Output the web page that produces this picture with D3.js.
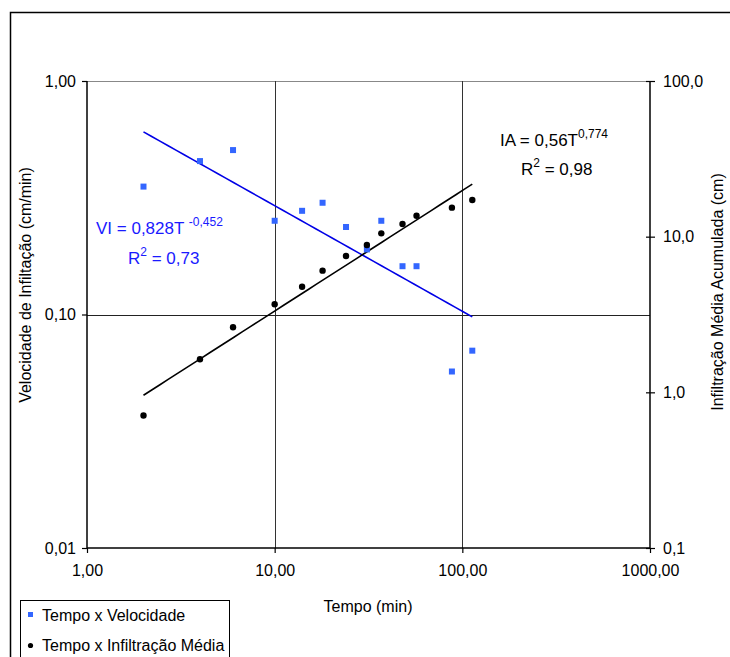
<!DOCTYPE html>
<html><head><meta charset="utf-8">
<script src="https://cdn.jsdelivr.net/npm/d3@7"></script>
<style>
html,body{margin:0;padding:0;background:#fff;}
svg{display:block;font-family:"Liberation Sans",Arial,sans-serif;}
</style></head>
<body><svg id="c" width="730" height="657"></svg>
<script>
// ---- data ----
const tempo = [2, 4, 6, 10, 14, 18, 24, 31, 37, 48, 57, 88, 113];
const velocidade = [0.353, 0.454, 0.506, 0.252, 0.278, 0.301, 0.237, 0.190, 0.252, 0.161, 0.161, 0.057, 0.070];
const infiltracao = [0.71, 1.63, 2.62, 3.68, 4.77, 6.05, 7.52, 8.84, 10.5, 12.06, 13.64, 15.36, 17.2];
const xTicks = [1, 10, 100, 1000];
const xTickLabels = ["1,00", "10,00", "100,00", "1000,00"];
const yLTicks = [0.01, 0.1, 1];
const yLTickLabels = ["0,01", "0,10", "1,00"];
const yRTicks = [0.1, 1, 10, 100];
const yRTickLabels = ["0,1", "1,0", "10,0", "100,0"];
// trendline equations shown on the chart
const viCoef = 0.828, viExp = -0.452;
const iaCoef = 0.56, iaExp = 0.774;
const seriesNames = ["Tempo x Velocidade", "Tempo x Infiltração Média"];

const svg = d3.select("#c");
const L = 87, R = 650, T = 81, B = 548;
const x = d3.scaleLog().domain([1, 1000]).range([L, R]);
const yL = d3.scaleLog().domain([0.01, 1]).range([B, T]);
const yR = d3.scaleLog().domain([0.1, 100]).range([B, T]);

// outer frame
svg.append("rect").attr("x", 10.5).attr("y", 12.5).attr("width", 900).attr("height", 900)
  .attr("fill", "none").attr("stroke", "#000").attr("stroke-width", 1.5);

// gridlines
svg.append("line").attr("x1", L).attr("x2", R).attr("y1", T + 0.5).attr("y2", T + 0.5)
  .attr("stroke", "#888").attr("stroke-width", 1.2);
[10, 100].forEach(v => {
  svg.append("line").attr("x1", Math.round(x(v)) + 0.5).attr("x2", Math.round(x(v)) + 0.5)
    .attr("y1", T).attr("y2", B).attr("stroke", "#333").attr("stroke-width", 1);
});
svg.append("line").attr("x1", L).attr("x2", R).attr("y1", Math.round(yL(0.1)) + 0.5).attr("y2", Math.round(yL(0.1)) + 0.5)
  .attr("stroke", "#222").attr("stroke-width", 1);

// axes
const fmtX = d => xTickLabels[xTicks.indexOf(d)];
const fmtL = d => yLTickLabels[yLTicks.indexOf(d)];
const fmtR = d => yRTickLabels[yRTicks.indexOf(d)];

const gx = svg.append("g").attr("transform", `translate(0,${B})`)
  .call(d3.axisBottom(x).tickValues(xTicks).tickFormat(fmtX).tickSize(5).tickPadding(12));
const gl = svg.append("g").attr("transform", `translate(${L},0)`)
  .call(d3.axisLeft(yL).tickValues(yLTicks).tickFormat(fmtL).tickSize(5).tickPadding(6));
const gr = svg.append("g").attr("transform", `translate(${R},0)`)
  .call(d3.axisRight(yR).tickValues(yRTicks).tickFormat(fmtR).tickSize(5).tickPadding(8));
gr.selectAll(".tick line").attr("x1", -4);
[gx, gl, gr].forEach(g => {
  g.select(".domain").attr("stroke", "#000").attr("stroke-width", 1.5);
  g.selectAll(".tick line").attr("stroke", "#000").attr("stroke-width", 1.2);
  g.selectAll("text").attr("font-size", 16).attr("fill", "#000")
    .attr("font-family", "'Liberation Sans', Arial, sans-serif");
});
gx.select(".domain").attr("d", `M${L},0H${R}`);
gl.select(".domain").attr("d", `M0,${B}V${T}`);
gr.select(".domain").attr("d", `M0,${B}V${T}`);

// axis titles
svg.append("text").attr("x", 368).attr("y", 612).attr("text-anchor", "middle")
  .attr("font-size", 16).text("Tempo (min)");
svg.append("text").attr("transform", "translate(31,285) rotate(-90)").attr("text-anchor", "middle")
  .attr("font-size", 16).text("Velocidade de Infiltação (cm/min)");
svg.append("text").attr("transform", "translate(723,292) rotate(-90)").attr("text-anchor", "middle")
  .attr("font-size", 16).text("Infiltração Média Acumulada (cm)");

// trendlines
const tMin = d3.min(tempo), tMax = d3.max(tempo);
const tLine = d3.range(0, 41).map(i => tMin * Math.pow(tMax / tMin, i / 40));
svg.append("path").datum(tLine)
  .attr("d", d3.line().x(t => x(t)).y(t => yL(viCoef * Math.pow(t, viExp))))
  .attr("fill", "none").attr("stroke", "#0000e6").attr("stroke-width", 1.6);
svg.append("path").datum(tLine)
  .attr("d", d3.line().x(t => x(t)).y(t => yR(iaCoef * Math.pow(t, iaExp))))
  .attr("fill", "none").attr("stroke", "#000").attr("stroke-width", 1.6);

// points
svg.append("g").selectAll("rect").data(tempo).join("rect")
  .attr("x", (t, i) => x(t) - 3).attr("y", (t, i) => yL(velocidade[i]) - 3)
  .attr("width", 6).attr("height", 6).attr("fill", "#3366ff");
svg.append("g").selectAll("circle").data(tempo).join("circle")
  .attr("cx", (t, i) => x(t)).attr("cy", (t, i) => yR(infiltracao[i]))
  .attr("r", 3.2).attr("fill", "#000");

// equations
const eq1 = svg.append("text").attr("x", 96).attr("y", 234).attr("font-size", 17).attr("fill", "#1a1aff");
eq1.append("tspan").text("VI = 0,828T ");
eq1.append("tspan").attr("font-size", 12).attr("dy", -8).text("-0,452");
const r1 = svg.append("text").attr("x", 128).attr("y", 264).attr("font-size", 17).attr("fill", "#1a1aff");
r1.append("tspan").text("R");
r1.append("tspan").attr("font-size", 12).attr("dy", -8).text("2");
r1.append("tspan").attr("dy", 8).text(" = 0,73");

const eq2 = svg.append("text").attr("x", 500).attr("y", 146).attr("font-size", 17).attr("fill", "#000");
eq2.append("tspan").text("IA = 0,56T");
eq2.append("tspan").attr("font-size", 12).attr("dy", -8).text("0,774");
const r2 = svg.append("text").attr("x", 521).attr("y", 175).attr("font-size", 17).attr("fill", "#000");
r2.append("tspan").text("R");
r2.append("tspan").attr("font-size", 12).attr("dy", -8).text("2");
r2.append("tspan").attr("dy", 8).text(" = 0,98");

// legend
svg.append("rect").attr("x", 20.5).attr("y", 600.5).attr("width", 209).attr("height", 100)
  .attr("fill", "#fff").attr("stroke", "#000").attr("stroke-width", 1);
svg.append("rect").attr("x", 28).attr("y", 612).attr("width", 5).attr("height", 5).attr("fill", "#3366ff");
svg.append("circle").attr("cx", 30.5).attr("cy", 645.5).attr("r", 2.6).attr("fill", "#000");
svg.append("text").attr("x", 42).attr("y", 621).attr("font-size", 16).text(seriesNames[0]);
svg.append("text").attr("x", 42).attr("y", 651).attr("font-size", 16).text(seriesNames[1]);
</script></body></html>
